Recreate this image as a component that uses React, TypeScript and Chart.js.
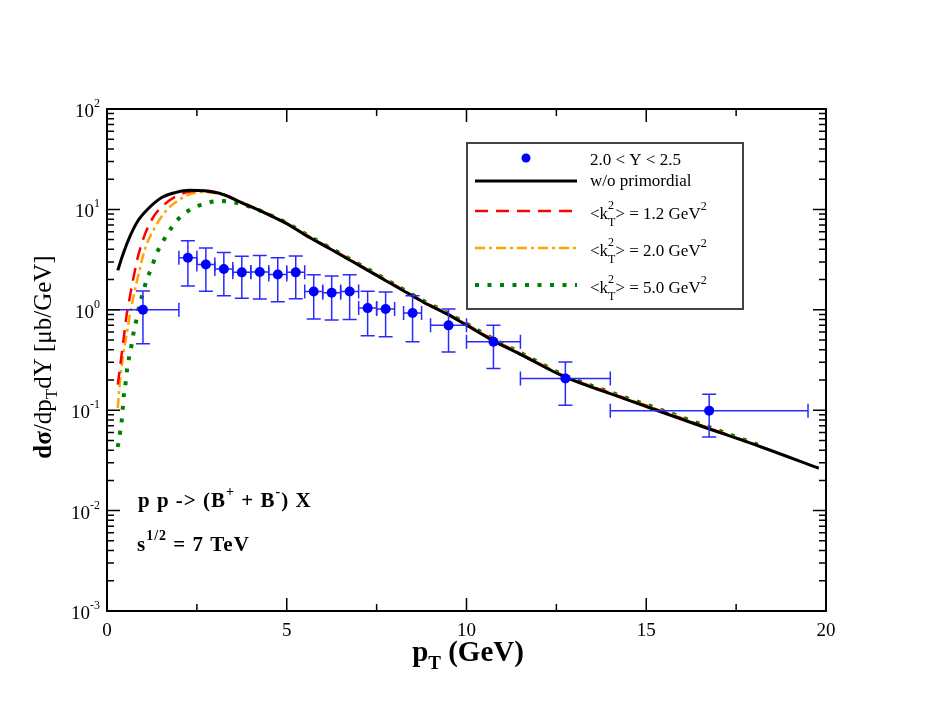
import { useEffect, useRef } from 'react'
import { Chart, registerables } from 'chart.js'

Chart.register(...registerables)

// measured points, 2.0 < Y < 2.5
const ptData = [1.0, 2.25, 2.75, 3.25, 3.75, 4.25, 4.75, 5.25, 5.75, 6.25, 6.75, 7.25, 7.75, 8.5, 9.5, 10.75, 12.75, 16.75]
const ptDataErr = [1.0, 0.25, 0.25, 0.25, 0.25, 0.25, 0.25, 0.25, 0.25, 0.25, 0.25, 0.25, 0.25, 0.25, 0.5, 0.75, 1.25, 2.75]
const sigData = [1.0, 3.3, 2.83, 2.55, 2.36, 2.38, 2.25, 2.36, 1.52, 1.48, 1.52, 1.04, 1.02, 0.93, 0.70, 0.48, 0.207, 0.099]
const sigDataErr = [0.54, 1.57, 1.3, 1.17, 1.06, 1.1, 1.05, 1.07, 0.71, 0.69, 0.72, 0.49, 0.48, 0.45, 0.32, 0.22, 0.095, 0.045]

// w/o primordial
const ptBlack = [0.3, 0.45, 0.65, 0.87, 1.15, 1.5, 1.9, 2.3, 2.7, 3.2, 3.8, 4.4, 5.0, 5.5, 6.2, 6.85, 7.5, 8.15, 8.8, 9.45, 10.1, 10.75, 11.5, 12.75, 14.0, 15.15, 16.5, 18.2, 19.8]
const sigBlack = [2.47, 3.62, 5.5, 7.8, 10.2, 13.0, 14.7, 15.5, 15.3, 14.2, 11.4, 9.2, 7.2, 5.6, 4.06, 2.99, 2.2, 1.62, 1.19, 0.91, 0.67, 0.49, 0.36, 0.213, 0.146, 0.104, 0.070, 0.043, 0.0264]

// <kT^2> = 1.2
const ptRed = [0.3, 0.39, 0.48, 0.55, 0.62, 0.73, 0.87, 1.06, 1.29, 1.57, 1.94, 2.36, 2.73, 3.2, 3.8, 4.4, 5.0, 5.5, 6.2, 6.85, 7.5, 8.15, 8.8, 9.45, 10.1, 10.75, 11.5, 12.75, 14.0, 15.15, 16.5, 18.1]
const sigRed = [0.18, 0.32, 0.58, 0.91, 1.25, 2.04, 3.48, 5.7, 8.4, 11.0, 13.6, 15.2, 15.3, 14.3, 11.5, 9.25, 7.25, 5.65, 4.1, 3.02, 2.22, 1.64, 1.2, 0.92, 0.68, 0.5, 0.365, 0.216, 0.148, 0.106, 0.071, 0.0445]

// <kT^2> = 2.0
const ptOrange = [0.3, 0.36, 0.45, 0.55, 0.65, 0.87, 1.06, 1.29, 1.61, 1.98, 2.36, 2.73, 3.19, 3.8, 4.4, 5.0, 5.5, 6.2, 6.85, 7.5, 8.15, 8.8, 9.45, 10.1, 10.75, 11.5, 12.75, 14.0, 15.15, 16.5, 18.1]
const sigOrange = [0.105, 0.19, 0.35, 0.58, 0.95, 2.2, 4.06, 6.2, 9.4, 12.3, 14.4, 14.9, 14.0, 11.6, 9.3, 7.3, 5.7, 4.12, 3.04, 2.24, 1.65, 1.21, 0.93, 0.685, 0.505, 0.368, 0.218, 0.149, 0.107, 0.0715, 0.0448]

// <kT^2> = 5.0
const ptGreen = [0.3, 0.36, 0.41, 0.44, 0.47, 0.52, 0.56, 0.62, 0.69, 0.75, 0.83, 0.9, 1.01, 1.1, 1.24, 1.35, 1.52, 1.71, 1.91, 2.17, 2.47, 2.82, 3.17, 3.5, 3.86, 4.2, 4.6, 5.0, 5.5, 6.2, 6.85, 7.5, 8.15, 8.8, 9.45, 10.1, 10.75, 11.5, 12.75, 14.0, 15.15, 16.5, 18.1]
const sigGreen = [0.043, 0.059, 0.079, 0.107, 0.143, 0.19, 0.257, 0.345, 0.46, 0.62, 0.83, 1.12, 1.5, 1.99, 2.6, 3.43, 4.56, 5.9, 7.5, 9.2, 10.6, 11.7, 12.1, 11.8, 11.0, 9.9, 8.6, 7.35, 5.75, 4.16, 3.07, 2.27, 1.67, 1.23, 0.94, 0.695, 0.512, 0.373, 0.221, 0.151, 0.109, 0.073, 0.0455]

const xMajor = [0, 5, 10, 15, 20]
const xMinor = [2.5, 7.5, 12.5, 17.5]
const yDecades = [-3, -2, -1, 0, 1, 2]

const serif = '"Liberation Serif", "Times New Roman", serif'

type Seg = { t: string; size: number; bold?: boolean; dy?: number; same?: boolean }

// draws a run of text pieces (sub/superscripts via dy), returns its width
function rich(ctx: CanvasRenderingContext2D, segs: Seg[], x: number, y: number, draw = true) {
  let end = x
  let lastStart = x
  for (const s of segs) {
    ctx.font = `${s.bold ? 'bold ' : ''}${s.size}px ${serif}`
    const w = ctx.measureText(s.t).width
    const sx = s.same ? lastStart : end
    if (draw) ctx.fillText(s.t, sx, y + (s.dy || 0))
    lastStart = sx
    end = Math.max(end, sx + w)
  }
  return end - x
}

const kLabel = (v: string): Seg[] => [
  { t: '<k', size: 17 },
  { t: 'T', size: 12, dy: 7 },
  { t: '2', size: 12, dy: -10, same: true },
  { t: `> = ${v} GeV`, size: 17 },
  { t: '2', size: 12, dy: -9 },
]

const decor = {
  id: 'decor',
  beforeDatasetDraw(chart: any, args: any) {
    if (args.index !== 0) return
    const ctx = chart.ctx as CanvasRenderingContext2D
    const xs = chart.scales.x
    const ys = chart.scales.y
    ctx.save()
    ctx.strokeStyle = '#2a2aff'
    ctx.lineWidth = 1.5
    const cap = 7
    ptData.forEach((p, i) => {
      const px = xs.getPixelForValue(p)
      const py = ys.getPixelForValue(sigData[i])
      const x0 = xs.getPixelForValue(p - ptDataErr[i])
      const x1 = xs.getPixelForValue(p + ptDataErr[i])
      const y0 = ys.getPixelForValue(sigData[i] + sigDataErr[i])
      const y1 = ys.getPixelForValue(sigData[i] - sigDataErr[i])
      ctx.beginPath()
      ctx.moveTo(x0, py); ctx.lineTo(x1, py)
      ctx.moveTo(px, y0); ctx.lineTo(px, y1)
      ctx.moveTo(px - cap, y0); ctx.lineTo(px + cap, y0)
      ctx.moveTo(px - cap, y1); ctx.lineTo(px + cap, y1)
      if (x0 > chart.chartArea.left + 1) { ctx.moveTo(x0, py - cap); ctx.lineTo(x0, py + cap) }
      ctx.moveTo(x1, py - cap); ctx.lineTo(x1, py + cap)
      ctx.stroke()
    })
    ctx.restore()
  },
  afterDraw(chart: any) {
    const ctx = chart.ctx as CanvasRenderingContext2D
    const { left, right, top, bottom } = chart.chartArea
    const xs = chart.scales.x
    const ys = chart.scales.y
    ctx.save()
    ctx.fillStyle = '#000'
    ctx.strokeStyle = '#000'

    // frame
    ctx.lineWidth = 2
    ctx.strokeRect(left, top, right - left, bottom - top)

    // ticks, inward on all four sides
    ctx.lineWidth = 1.5
    ctx.beginPath()
    const xt = (v: number, len: number) => {
      const px = xs.getPixelForValue(v)
      ctx.moveTo(px, bottom); ctx.lineTo(px, bottom - len)
      ctx.moveTo(px, top); ctx.lineTo(px, top + len)
    }
    xMajor.forEach(v => xt(v, 13))
    xMinor.forEach(v => xt(v, 7))
    const yt = (v: number, len: number) => {
      const py = ys.getPixelForValue(v)
      ctx.moveTo(left, py); ctx.lineTo(left + len, py)
      ctx.moveTo(right, py); ctx.lineTo(right - len, py)
    }
    yDecades.forEach((e, k) => {
      yt(Math.pow(10, e), 13)
      if (k < yDecades.length - 1) for (let m = 2; m <= 9; m++) yt(m * Math.pow(10, e), 7)
    })
    ctx.stroke()

    // tick labels
    ctx.textBaseline = 'alphabetic'
    ctx.font = `19px ${serif}`
    ctx.textAlign = 'center'
    xMajor.forEach(v => ctx.fillText(String(v), xs.getPixelForValue(v), bottom + 25))
    ctx.textAlign = 'left'
    yDecades.forEach(e => {
      const py = ys.getPixelForValue(Math.pow(10, e))
      const segs: Seg[] = [
        { t: '10', size: 19 },
        { t: String(e), size: 12, dy: -10 },
      ]
      const w = rich(ctx, segs, 0, 0, false)
      rich(ctx, segs, left - 7 - w, py + 8)
    })

    // axis titles
    const xt1: Seg[] = [
      { t: 'p', size: 29, bold: true },
      { t: 'T', size: 19, bold: true, dy: 8 },
      { t: ' (GeV)', size: 29, bold: true },
    ]
    const wx = rich(ctx, xt1, 0, 0, false)
    rich(ctx, xt1, 468 - wx / 2, 661)

    ctx.save()
    ctx.translate(51, 357)
    ctx.rotate(-Math.PI / 2)
    const yt1: Seg[] = [
      { t: 'dσ', size: 25, bold: true },
      { t: '/dp', size: 25 },
      { t: 'T', size: 17, dy: 6 },
      { t: 'dY [μb/GeV]', size: 25 },
    ]
    const wy = rich(ctx, yt1, 0, 0, false)
    rich(ctx, yt1, -wy / 2, 0)
    ctx.restore()

    // reaction text
    ctx.letterSpacing = '1px'
    const r1: Seg[] = [
      { t: 'p p -> (B', size: 21, bold: true },
      { t: '+', size: 14, bold: true, dy: -11 },
      { t: ' + B', size: 21, bold: true },
      { t: '-', size: 14, bold: true, dy: -11 },
      { t: ') X', size: 21, bold: true },
    ]
    rich(ctx, r1, 138, 507)
    rich(ctx, [
      { t: 's', size: 21, bold: true },
      { t: '1/2', size: 14, bold: true, dy: -11 },
      { t: ' = 7 TeV', size: 21, bold: true },
    ], 137, 551)
    ctx.letterSpacing = '0px'

    // legend
    ctx.fillStyle = '#fff'
    ctx.fillRect(467, 143, 276, 166)
    ctx.strokeStyle = '#444'
    ctx.lineWidth = 2
    ctx.strokeRect(467, 143, 276, 166)
    ctx.fillStyle = '#0000ff'
    ctx.beginPath()
    ctx.arc(526, 158, 4.5, 0, Math.PI * 2)
    ctx.fill()
    const sample = (y: number, color: string, width: number, dash: number[]) => {
      ctx.strokeStyle = color
      ctx.lineWidth = width
      ctx.setLineDash(dash)
      ctx.beginPath()
      ctx.moveTo(475, y); ctx.lineTo(577, y)
      ctx.stroke()
    }
    sample(181, '#000', 3, [])
    sample(211, '#ff0000', 2.5, [13, 8])
    sample(248, '#ffa500', 2.5, [10, 4, 3, 4])
    sample(285, '#008000', 4, [4, 8.5])
    ctx.setLineDash([])
    ctx.fillStyle = '#000'
    rich(ctx, [{ t: '2.0 < Y < 2.5', size: 17 }], 590, 165)
    rich(ctx, [{ t: 'w/o primordial', size: 17 }], 590, 186)
    rich(ctx, kLabel('1.2'), 590, 219)
    rich(ctx, kLabel('2.0'), 590, 256)
    rich(ctx, kLabel('5.0'), 590, 293)
    ctx.restore()
  },
}

const pairs = (xs: number[], ys: number[]) => xs.map((x, i) => ({ x, y: ys[i] }))

export default function App() {
  const ref = useRef<HTMLCanvasElement>(null)
  useEffect(() => {
    if (!ref.current) return
    const line = (data: { x: number; y: number }[], color: string, width: number, dash: number[]) => ({
      type: 'line' as const,
      data,
      borderColor: color,
      borderWidth: width,
      borderDash: dash,
      pointRadius: 0,
      fill: false,
      cubicInterpolationMode: 'monotone' as const,
    })
    const chart = new Chart(ref.current, {
      type: 'line',
      data: {
        datasets: [
          {
            type: 'scatter',
            data: pairs(ptData, sigData),
            showLine: false,
            pointRadius: 5,
            pointBackgroundColor: '#0000ff',
            pointBorderWidth: 0,
          } as any,
          line(pairs(ptBlack, sigBlack), '#000', 3, []),
          line(pairs(ptRed, sigRed), '#ff0000', 2.5, [13, 8]),
          line(pairs(ptOrange, sigOrange), '#ffa500', 2.5, [10, 4, 3, 4]),
          line(pairs(ptGreen, sigGreen), '#008000', 4, [4, 8.5]),
        ],
      },
      options: {
        animation: false,
        responsive: false,
        layout: { padding: { left: 107, right: 104, top: 109, bottom: 108 } },
        scales: {
          x: { type: 'linear', min: 0, max: 20, display: false },
          y: { type: 'logarithmic', min: 1e-3, max: 1e2, display: false },
        },
        plugins: { legend: { display: false }, tooltip: { enabled: false } },
      },
      plugins: [decor],
    })
    return () => chart.destroy()
  }, [])
  return (
    <div style={{ position: 'fixed', left: 0, top: 0, width: 930, height: 719, background: '#fff' }}>
      <canvas ref={ref} width={930} height={719} />
    </div>
  )
}
